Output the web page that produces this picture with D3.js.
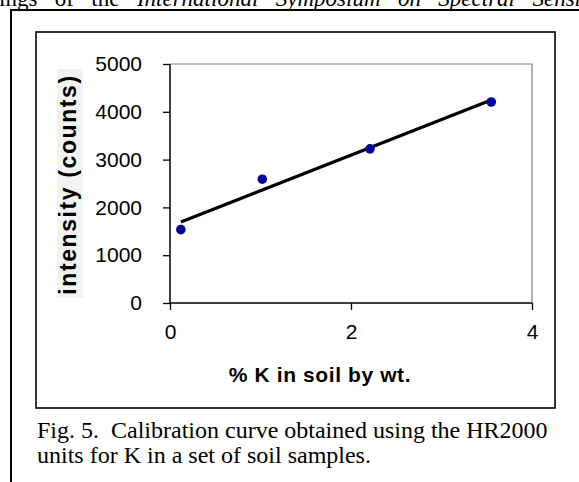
<!DOCTYPE html>
<html><head><meta charset="utf-8">
<script src="https://cdn.jsdelivr.net/npm/d3@7"></script>
<style>html,body{margin:0;padding:0;background:#fff;} svg{display:block;}</style>
</head><body>
<script>
// Data
const potassium = [0.12, 1.02, 2.21, 3.55];      // % K in soil by wt.
const intensity = [1535, 2590, 3225, 4205];      // counts
const xTicks = [0, 2, 4];
const yTicks = [0, 1000, 2000, 3000, 4000, 5000];
const xTitle = "% K in soil by wt.";
const yTitle = "intensity (counts)";
const captionLines = ["Fig. 5.  Calibration curve obtained using the HR2000", "units for K in a set of soil samples."];

const W = 579, H = 482;
const svg = d3.select("body").append("svg").attr("width", W).attr("height", H);
const serif = "Liberation Serif, Times New Roman, serif";

// header text cut off at top (justified across the page)
const hdr = svg.append("text").attr("x", -1).attr("y", 6)
  .attr("font-family", serif).attr("font-size", 23).attr("fill", "#000");
hdr.append("tspan").text("ings of the ");
hdr.append("tspan").attr("font-style", "italic").text("International Symposium on Spectral Sensi");
const hl = hdr.node().getComputedTextLength();
hdr.attr("word-spacing", Math.max(0, (582 - hl) / 7));

// outer frame (top and left lines)
svg.append("path").attr("d", "M11,482 L11,10 L579,10").attr("fill", "none").attr("stroke", "#000").attr("stroke-width", 2);
// inner chart box
svg.append("rect").attr("x", 36).attr("y", 32).attr("width", 519).attr("height", 376)
  .attr("fill", "#fff").attr("stroke", "#000").attr("stroke-width", 1.6);

const plot = {left: 170, right: 532, top: 64, bottom: 303};
const x = d3.scaleLinear().domain([0, 4]).range([plot.left, plot.right]);
const y = d3.scaleLinear().domain([0, 5000]).range([plot.bottom, plot.top]);

// plot area border (gray)
svg.append("path").attr("d", `M${plot.left},${plot.top} L${plot.right},${plot.top} L${plot.right},${plot.bottom}`)
  .attr("fill", "none").attr("stroke", "#808080").attr("stroke-width", 1.2);

const fontSans = "Arial, Liberation Sans, Helvetica, sans-serif";

// y axis
const yAxis = svg.append("g").attr("transform", `translate(${plot.left},0)`)
  .call(d3.axisLeft(y).tickValues(yTicks).tickSize(7).tickPadding(21).tickFormat(d3.format("d")));
// x axis
const xAxis = svg.append("g").attr("transform", `translate(0,${plot.bottom})`)
  .call(d3.axisBottom(x).tickValues(xTicks).tickSize(7).tickPadding(14).tickFormat(d3.format("d")));
[yAxis, xAxis].forEach(g => {
  g.select(".domain").attr("stroke", "#000").attr("stroke-width", 1.5);
  g.selectAll(".tick line").attr("stroke", "#000").attr("stroke-width", 1.3);
  g.selectAll(".tick text").attr("font-family", fontSans).attr("font-size", 21).attr("fill", "#000");
});
xAxis.select(".domain").attr("d", `M${plot.left},0H${plot.right}`);
yAxis.select(".domain").attr("d", `M0,${plot.bottom}V${plot.top}`);

// trendline (least squares fit over data range)
const mx = d3.mean(potassium), my = d3.mean(intensity);
const sxy = d3.sum(potassium, (v, i) => (v - mx) * (intensity[i] - my));
const sxx = d3.sum(potassium, v => (v - mx) ** 2);
const slope = sxy / sxx, icpt = my - slope * mx;
const [x0, x1] = d3.extent(potassium);
svg.append("line").attr("x1", x(x0)).attr("y1", y(icpt + slope * x0))
  .attr("x2", x(x1)).attr("y2", y(icpt + slope * x1))
  .attr("stroke", "#000").attr("stroke-width", 3.2);

// points
svg.selectAll("circle.pt").data(potassium).enter().append("circle").attr("class", "pt")
  .attr("cx", d => x(d)).attr("cy", (d, i) => y(intensity[i])).attr("r", 4.8)
  .attr("fill", "#000099");

// axis titles
svg.append("text").attr("x", 320).attr("y", 382).attr("text-anchor", "middle")
  .attr("font-family", fontSans).attr("font-weight", "bold").attr("font-size", 21)
  .attr("letter-spacing", 0.6).text(xTitle);

svg.append("rect").attr("x", 57).attr("y", 69).attr("width", 26).attr("height", 229).attr("fill", "#f2f2f2");
svg.append("text").attr("transform", `translate(76,${(plot.top + plot.bottom) / 2 + 1}) rotate(-90)`)
  .attr("text-anchor", "middle")
  .attr("font-family", fontSans).attr("font-weight", "bold").attr("font-size", 23)
  .attr("letter-spacing", 1.6).text(yTitle);

// caption
const cap = svg.append("text").attr("font-family", serif).attr("font-size", 24).attr("fill", "#000");
captionLines.forEach((t, i) => {
  cap.append("tspan").attr("x", 37).attr("y", 438 + i * 25).text(t);
});
svg.selectAll("text").attr("xml:space", "preserve");
</script>
</body></html>
